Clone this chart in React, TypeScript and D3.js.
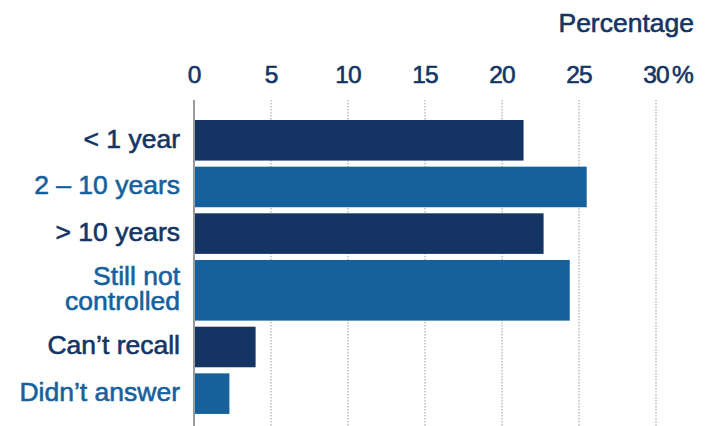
import * as d3 from 'd3';

const categories = [['< 1 year'], ['2 – 10 years'], ['> 10 years'], ['Still not', 'controlled'], ['Can’t recall'], ['Didn’t answer']];
const percentages = [21.4, 25.5, 22.7, 24.4, 4.0, 2.3];
const tickValues = [0, 5, 10, 15, 20, 25, 30];

const WIDTH = 712;
const HEIGHT = 426;
const DARK = '#143563';
const LIGHT = '#16619c';
const FONT = '"Liberation Sans", Arial, Helvetica, sans-serif';

export default function App() {
  const xScale = d3.scaleLinear().domain([0, 30]).range([194, 656]);

  // rows with two label lines get a taller slot
  const weights = categories.map((lines) => 1 + 0.43 * (lines.length - 1));
  const offsets = weights.map((_, i) => d3.sum(weights.slice(0, i)));
  const yScale = d3.scaleLinear().domain([0, d3.sum(weights)]).range([120, 420]);
  const pad = 0.13;

  // a thin stroke in the fill colour gives the medium weight of the original type
  const heavy = (color: string) => ({ fill: color, stroke: color, strokeWidth: 0.6 });

  return (
    <svg
      width={WIDTH}
      height={HEIGHT}
      style={{ position: 'absolute', top: 0, left: 0, fontFamily: FONT }}
    >
      <text x={694} y={32} textAnchor="end" fontSize={26.5} {...heavy(DARK)}>
        Percentage
      </text>

      {tickValues.map((tick) => (
        <g key={tick}>
          <text
            x={xScale(tick)}
            y={82.5}
            textAnchor="middle"
            fontSize={24.5}
            letterSpacing={-1}
            {...heavy(DARK)}
          >
            {tick}
          </text>
          {tick > 0 && (
            <line
              x1={xScale(tick)}
              x2={xScale(tick)}
              y1={100}
              y2={HEIGHT}
              stroke="#9a9a9a"
              strokeWidth={1}
              strokeDasharray="1.5 1.5"
            />
          )}
        </g>
      ))}
      <text x={xScale(30) + 16} y={82.5} fontSize={24.5} {...heavy(DARK)}>
        %
      </text>

      {percentages.map((value, i) => {
        const y0 = yScale(offsets[i]);
        const y1 = yScale(offsets[i] + weights[i] - pad);
        const color = i % 2 === 0 ? DARK : LIGHT;
        const mid = (y0 + y1) / 2;
        const lines = categories[i];
        const lineHeight = 25;
        return (
          <g key={i}>
            <rect x={xScale(0)} y={y0} width={xScale(value) - xScale(0)} height={y1 - y0} fill={color} />
            <text textAnchor="end" fontSize={26.5} {...heavy(color)}>
              {lines.map((line, j) => (
                <tspan
                  key={j}
                  x={180}
                  y={mid + 7.5 + (j - (lines.length - 1) / 2) * lineHeight}
                >
                  {line}
                </tspan>
              ))}
            </text>
          </g>
        );
      })}

      <line x1={xScale(0)} x2={xScale(0)} y1={100} y2={HEIGHT} stroke="#9a9a9a" strokeWidth={2} />
    </svg>
  );
}
